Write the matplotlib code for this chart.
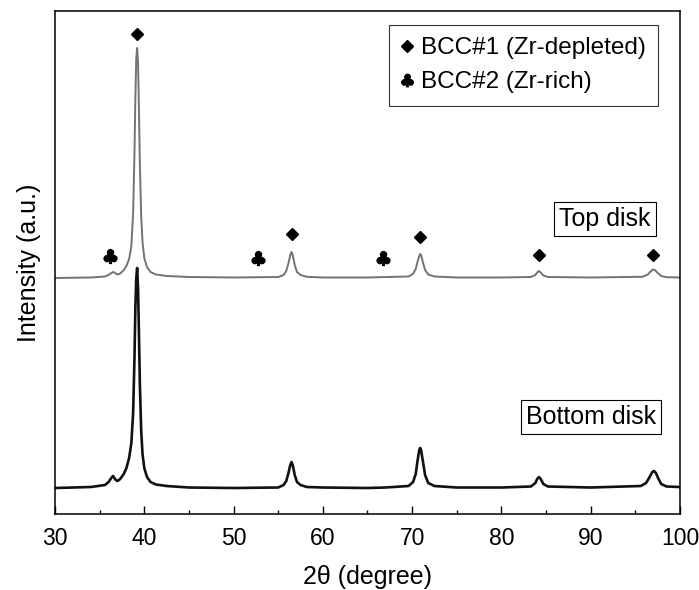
import numpy as np
import matplotlib.pyplot as plt
from matplotlib.lines import Line2D

plt.rcParams['font.family'] = ['Liberation Sans', 'DejaVu Sans']

# --- data (intensity in arbitrary units above each baseline) ---
top_2theta = [30, 34, 35.6, 36.0, 36.3, 36.55, 36.8, 37.0, 37.3, 37.7, 38.0, 38.3, 38.55, 38.75,
              38.9, 39.0, 39.1, 39.2, 39.3, 39.4, 39.5, 39.65, 39.8, 40.0, 40.3, 40.7, 41.3, 42.5,
              45, 50, 55.0, 55.6, 55.9, 56.15, 56.35, 56.5, 56.65, 56.85, 57.1, 57.5, 58.2, 60, 65,
              69.6, 70.1, 70.4, 70.6, 70.8, 70.9, 71.0, 71.2, 71.45, 71.8, 72.5, 75, 80, 83.3, 83.8,
              84.0, 84.2, 84.4, 84.7, 85.2, 90, 95.8, 96.4, 96.7, 96.95, 97.2, 97.5, 97.9, 98.5, 100]
top_counts = [0, 0.5, 1.5, 3, 5, 6, 4.5, 3.5, 4.5, 8, 12, 19, 32, 65,
              125, 180, 220, 230, 215, 170, 115, 62, 36, 20, 11, 6, 3.5, 2,
              1, 0.5, 1, 3, 7, 15, 23, 26, 22, 13, 6, 3, 1.2, 0.5, 0.5,
              1.5, 4, 9, 16, 22, 24, 23, 16, 8, 3.5, 1.5, 0.5, 0.5, 1, 3,
              5.5, 7, 5.5, 2.5, 1, 0.5, 1.2, 3.5, 6.5, 8.5, 8, 5, 2, 0.8, 0.5]

bottom_2theta = [30, 34, 35.6, 36.0, 36.3, 36.5, 36.8, 37.0, 37.3, 37.7, 38.0, 38.3, 38.55, 38.75,
                 38.9, 39.0, 39.1, 39.2, 39.3, 39.4, 39.5, 39.65, 39.8, 40.0, 40.3, 40.7, 41.3, 42.5,
                 45, 50, 55, 55.6, 55.9, 56.15, 56.35, 56.5, 56.65, 56.85, 57.1, 57.5, 58.2, 60, 65,
                 67, 69.6, 70.1, 70.4, 70.6, 70.8, 70.9, 71.0, 71.2, 71.45, 71.8, 72.5, 75, 80, 83.3,
                 83.8, 84.0, 84.2, 84.4, 84.7, 85.2, 90, 95.6, 96.2, 96.6, 96.9, 97.1, 97.3, 97.6,
                 97.9, 98.5, 100]
bottom_counts = [0, 1, 3, 6, 10, 12, 8, 7, 9, 14, 20, 30, 45, 75,
                 130, 180, 210, 220, 200, 155, 105, 58, 34, 20, 11, 6, 3.5, 2,
                 0.5, 0, 0.5, 3, 7, 15, 23, 26, 22, 13, 6, 3, 1, 0.5, 0,
                 0.5, 2, 6, 14, 27, 38, 40, 38, 27, 13, 5, 2, 0.5, 0.5, 1.5,
                 5, 9, 11, 9, 4, 1.5, 0.5, 2, 5, 11, 16, 17, 15, 9,
                 4, 1.5, 1]

top_offset = 236
bottom_offset = 26

# phase markers (2theta, height on the plot)
bcc1_2theta = [39.2, 56.5, 70.9, 84.2, 97.0]
bcc1_y = [480, 280, 277, 259, 259]
bcc2_2theta = [36.2, 52.7, 66.7]
bcc2_y = [258, 256, 256]

fig = plt.figure(figsize=(6.99, 5.9), dpi=100)
ax = fig.add_axes([0.0787, 0.1288, 0.8941, 0.8526])

ax.plot(top_2theta, np.array(top_counts) + top_offset, color='#737373', lw=1.4)
ax.plot(bottom_2theta, np.array(bottom_counts) + bottom_offset, color='#111111', lw=1.9)

ax.plot(bcc1_2theta, bcc1_y, ls='none', marker='D', ms=6, color='black')
ax.plot(bcc2_2theta, bcc2_y, ls='none', marker=r'$\clubsuit$', ms=10, color='black')

ax.set_xlim(30, 100)
ax.set_ylim(0, 503)
ax.set_xticks(np.arange(30, 101, 10))
ax.set_xticks(np.arange(35, 100, 10), minor=True)
ax.set_yticks([])
ax.tick_params(axis='x', which='major', direction='in', length=6, width=1, labelsize=16.5, pad=9)
ax.tick_params(axis='x', which='minor', direction='in', length=3, width=1)
for sp in ax.spines.values():
    sp.set_linewidth(1.1)

ax.set_xlabel('2θ (degree)', fontsize=18, labelpad=11)
ax.set_ylabel('Intensity (a.u.)', fontsize=18, labelpad=10)

box = dict(boxstyle='square,pad=0.2', fc='white', ec='black', lw=0.8)
ax.text(91.6, 294.5, 'Top disk', fontsize=18, ha='center', va='center', bbox=box)
ax.text(90.0, 97, 'Bottom disk', fontsize=18, ha='center', va='center', bbox=box)

handles = [Line2D([], [], ls='none', marker='D', ms=6, color='black'),
           Line2D([], [], ls='none', marker=r'$\clubsuit$', ms=9, color='black')]
leg = ax.legend(handles, ['BCC#1 (Zr-depleted)', 'BCC#2 (Zr-rich)'], loc='upper right',
                bbox_to_anchor=(0.965, 0.972), fontsize=17.5, frameon=True, fancybox=False,
                edgecolor='black', handlelength=0.4, handletextpad=0.4, borderpad=0.5,
                labelspacing=0.5, borderaxespad=0)
leg.get_frame().set_linewidth(0.8)

fig.savefig('out.png', dpi=100)
